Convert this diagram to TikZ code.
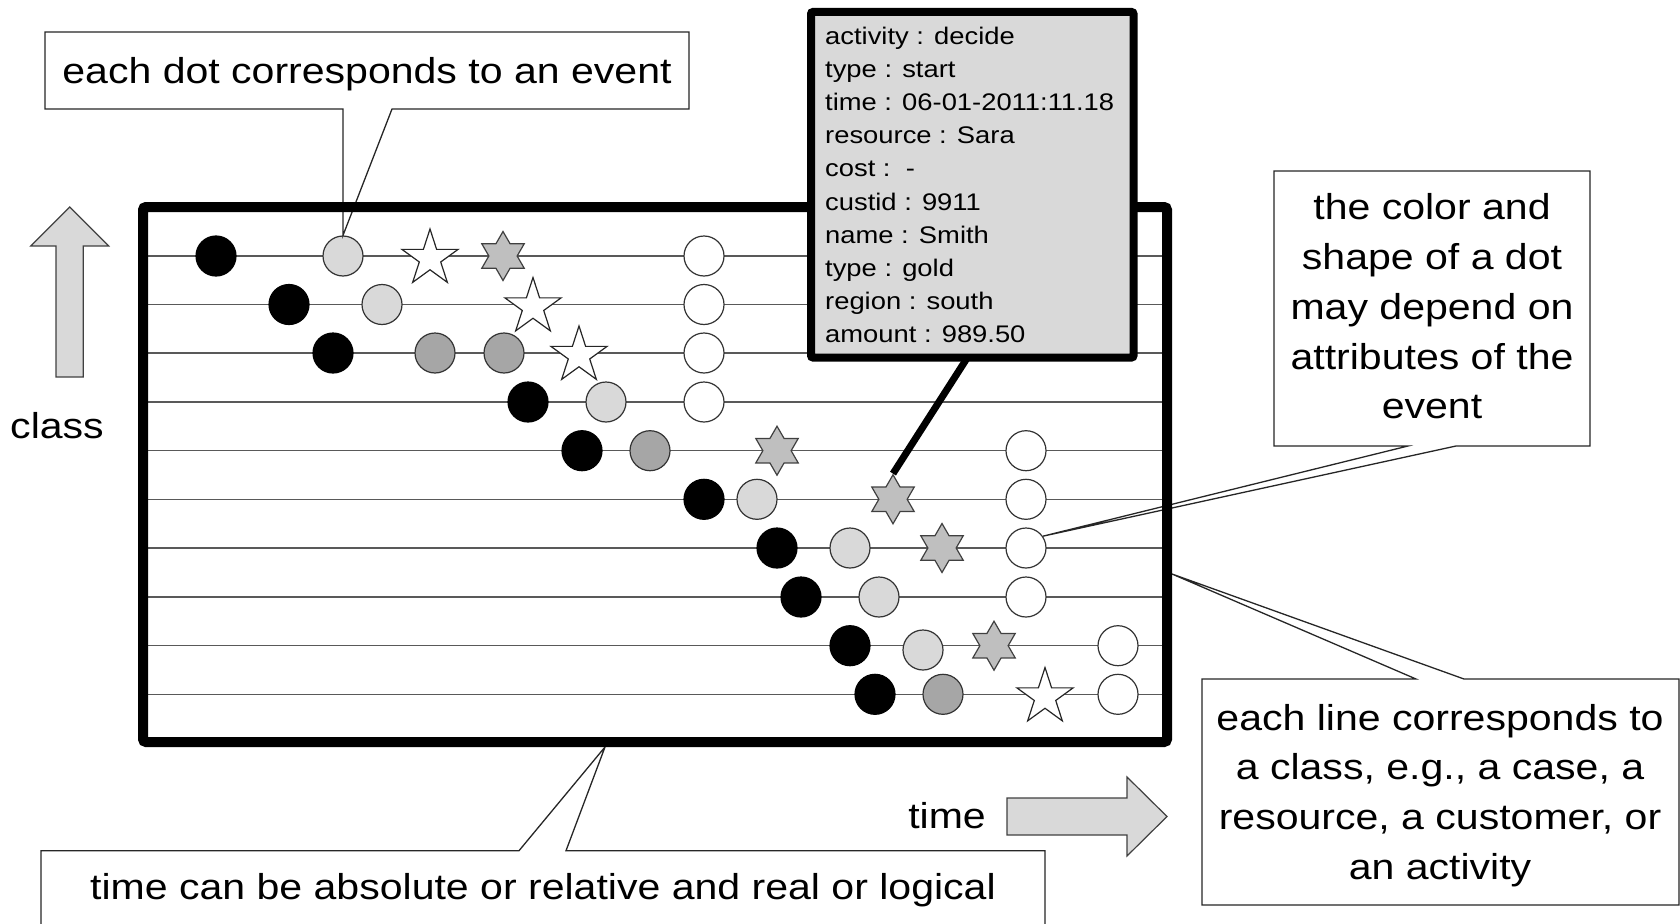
\documentclass[tikz,border=0pt]{standalone}
\usepackage{fontspec}
\setmainfont{Liberation Sans}[FakeStretch=1.14]
\usetikzlibrary{shapes.geometric}

\definecolor{lightdot}{HTML}{D9D9D9}
\definecolor{middot}{HTML}{A6A6A6}
\definecolor{hexgray}{HTML}{BFBFBF}
\definecolor{panelgray}{HTML}{D9D9D9}
\newcommand{\calloutsize}{\fontsize{36}{49.8}\selectfont}
\newcommand{\infosize}{\fontsize{24}{33.1}\selectfont}

\tikzset{
  rowline/.style={draw=black!65, line width=1.5},
  ev/.style={circle, draw=black!80, line width=1.2, minimum size=40, inner sep=0},
  evblack/.style={ev, fill=black, draw=black},
  evlight/.style={ev, fill=lightdot},
  evmid/.style={ev, fill=middot},
  evwhite/.style={ev, fill=white},
  evstar/.style={star, star points=5, star point ratio=2.618, minimum size=59, inner sep=0,
                 draw=black!85, line width=1.2, fill=white},
  evhex/.style={star, star points=6, star point ratio=1.732, minimum size=49, inner sep=0,
                draw=black!75, line width=1.2, fill=hexgray},
  callout/.style={draw=black!85, line width=1.3, fill=white, line join=miter},
  callouttext/.style={font=\calloutsize, align=center, inner sep=0},
  bigarrow/.style={draw=black!75, line width=1.2, fill=panelgray},
}

\begin{document}
\begin{tikzpicture}[x=1pt, y=-1pt]
\useasboundingbox (0,0) rectangle (1680,923);

% one line per class
\foreach \y in {256,304.5,353,402,450.7,499.3,548,597,645.7,694.3}
  \draw[rowline] (148,\y) -- (1162,\y);

% events, row by row
\node[evblack] (r0a) at (216,256) {};
\node[evlight] (r0b) at (343,256) {};
\node[evstar]  (r0c) at (430,258.5) {};
\node[evhex]   (r0d) at (503,256) {};
\node[evwhite] (r0e) at (704,256) {};

\node[evblack] (r1a) at (289,304.5) {};
\node[evlight] (r1b) at (382,304.5) {};
\node[evstar]  (r1c) at (533,307) {};
\node[evwhite] (r1d) at (704,304.5) {};

\node[evblack] (r2a) at (333,353) {};
\node[evmid]   (r2b) at (435,353) {};
\node[evmid]   (r2c) at (504,353) {};
\node[evstar]  (r2d) at (579,355.5) {};
\node[evwhite] (r2e) at (704,353) {};

\node[evblack] (r3a) at (528,402) {};
\node[evlight] (r3b) at (606,402) {};
\node[evwhite] (r3c) at (704,402) {};

\node[evblack] (r4a) at (582,450.7) {};
\node[evmid]   (r4b) at (650,450.7) {};
\node[evhex]   (r4c) at (777,450.7) {};
\node[evwhite] (r4d) at (1026,450.7) {};

\node[evblack] (r5a) at (704,499.3) {};
\node[evlight] (r5b) at (757,499.3) {};
\node[evhex]   (r5c) at (893,499.3) {};
\node[evwhite] (r5d) at (1026,499.3) {};

\node[evblack] (r6a) at (777,548) {};
\node[evlight] (r6b) at (850,548) {};
\node[evhex]   (r6c) at (942,548) {};
\node[evwhite] (r6d) at (1026,548) {};

\node[evblack] (r7a) at (801,597) {};
\node[evlight] (r7b) at (879,597) {};
\node[evwhite] (r7c) at (1026,597) {};

\node[evblack] (r8a) at (850,645.7) {};
\node[evlight] (r8b) at (923,650) {};
\node[evhex]   (r8c) at (994,645.7) {};
\node[evwhite] (r8d) at (1118,645.7) {};

\node[evblack] (r9a) at (875,694.3) {};
\node[evmid]   (r9b) at (943,694.3) {};
\node[evstar]  (r9c) at (1045,697) {};
\node[evwhite] (r9d) at (1118,694.3) {};

% points on the outer edge of the frame
\coordinate (timetip) at (605,747);
\coordinate (linetip) at (1172,574);

% callouts
\draw[callout] (45,32) -- (689,32) -- (689,109) -- (392,109) -- (r0b.north)
  -- (343,109) -- (45,109) -- cycle;
\node[callouttext, anchor=base] (dotnote) at (367,84) {each dot corresponds to an event};

\draw[callout] (1274,171) -- (1590,171) -- (1590,446) -- (1456,446) -- (r6d.35)
  -- (1408,446) -- (1274,446) -- cycle;
\node[callouttext] (shapenote) at (1432,306.5)
  {the color and\\shape of a dot\\may depend on\\attributes of the\\event};

\draw[callout] (1202,679) -- (1416,679) -- (linetip) -- (1464,679) -- (1679,679)
  -- (1679,905) -- (1202,905) -- cycle;
\node[callouttext] (linenote) at (1440,795.5)
  {each line corresponds to\\a class, e.g., a case, a\\resource, a customer, or\\an activity};

\draw[callout] (41,945) -- (41,850.7) -- (519,850.7) -- (timetip) -- (566,850.7)
  -- (1045,850.7) -- (1045,945) -- cycle;
\node[callouttext, anchor=base] (timenote) at (543,899)
  {time can be absolute or relative and real or logical};

% the frame holding all classes
\node[draw=black, line width=10, rounded corners=3, minimum width=1024, minimum height=535,
      inner sep=0] (frame) at (655,474.5) {};

% attributes of one event
\draw[line width=7] (972.25,350) -- (r5c.north);
\node[draw=black, line width=8, rounded corners=2, fill=panelgray, minimum width=322.5,
      minimum height=345.5, inner sep=0] (info) at (972.25,184.75) {};
\node[font=\infosize, align=left, inner sep=0, anchor=north west] (infotext) at (825,27)
  {activity : decide\\type : start\\time : 06-01-2011:11.18\\resource : Sara\\cost :\ \ -\\
   custid : 9911\\name : Smith\\type : gold\\region : south\\amount : 989.50};

% axes
\draw[bigarrow] (56,377) -- (56,246) -- (30.7,246) -- (69.7,207) -- (108.7,246)
  -- (83.3,246) -- (83.3,377) -- cycle;
\node[font=\calloutsize, inner sep=0, anchor=base] (classlabel) at (57,438) {class};

\draw[bigarrow] (1007,798) -- (1127,798) -- (1127,777) -- (1167,816.5) -- (1127,856)
  -- (1127,835) -- (1007,835) -- cycle;
\node[font=\calloutsize, inner sep=0, anchor=base east] (timelabel) at (986,828) {time};
\end{tikzpicture}
\end{document}
